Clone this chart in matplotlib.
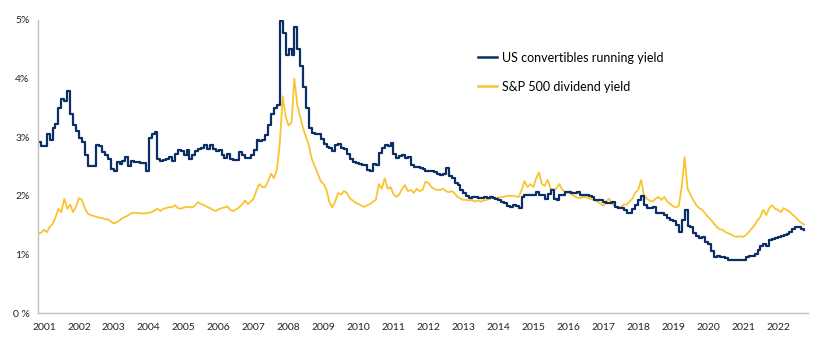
import numpy as np
import pandas as pd
import matplotlib
matplotlib.use("Agg")
import matplotlib.pyplot as plt

plt.rcParams['font.family'] = ['Lato', 'DejaVu Sans']

# monthly readings, Nov 2000 .. Oct 2022 (in % yield)
conv_2000 = [2.92, 2.85]
conv_2001 = [2.85, 3.05, 2.95, 3.15, 3.22, 3.50, 3.65, 3.62, 3.78, 3.40, 3.20, 3.10]
conv_2002 = [2.98, 2.92, 2.70, 2.50, 2.50, 2.50, 2.87, 2.85, 2.75, 2.70, 2.62, 2.45]
conv_2003 = [2.42, 2.58, 2.55, 2.60, 2.66, 2.50, 2.60, 2.58, 2.58, 2.56, 2.56, 2.42]
conv_2004 = [2.99, 3.05, 3.09, 2.62, 2.60, 2.61, 2.63, 2.66, 2.60, 2.72, 2.78, 2.76]
conv_2005 = [2.70, 2.78, 2.62, 2.70, 2.76, 2.80, 2.82, 2.87, 2.80, 2.87, 2.80, 2.76]
conv_2006 = [2.78, 2.70, 2.65, 2.72, 2.62, 2.61, 2.61, 2.75, 2.70, 2.64, 2.65, 2.70]
conv_2007 = [2.78, 2.95, 2.93, 2.95, 3.04, 3.20, 3.40, 3.50, 3.55, 4.98, 4.78, 4.40]
conv_2008 = [4.50, 4.40, 4.88, 4.50, 4.22, 3.85, 3.50, 3.15, 3.08, 3.05, 3.05, 2.97]
conv_2009 = [2.88, 2.83, 2.82, 2.76, 2.87, 2.88, 2.82, 2.80, 2.72, 2.62, 2.57, 2.56]
conv_2010 = [2.55, 2.53, 2.52, 2.44, 2.42, 2.54, 2.53, 2.73, 2.82, 2.87, 2.85, 2.90]
conv_2011 = [2.72, 2.65, 2.68, 2.70, 2.64, 2.66, 2.52, 2.49, 2.49, 2.47, 2.45, 2.42]
conv_2012 = [2.43, 2.42, 2.40, 2.38, 2.36, 2.38, 2.47, 2.33, 2.30, 2.22, 2.18, 2.10]
conv_2013 = [2.05, 2.00, 1.96, 1.98, 1.98, 1.96, 1.97, 1.98, 1.96, 1.98, 1.97, 1.95]
conv_2014 = [1.93, 1.90, 1.88, 1.82, 1.81, 1.85, 1.82, 1.80, 1.98, 2.01, 2.01, 2.01]
conv_2015 = [2.02, 2.07, 2.01, 2.01, 1.95, 2.03, 2.10, 1.95, 1.92, 2.01, 2.02, 2.07]
conv_2016 = [2.07, 2.05, 2.05, 2.07, 2.01, 2.01, 2.01, 2.00, 1.98, 1.93, 1.93, 1.93]
conv_2017 = [1.90, 1.87, 1.87, 1.90, 1.81, 1.79, 1.79, 1.75, 1.70, 1.70, 1.77, 1.85]
conv_2018 = [1.93, 2.00, 1.85, 1.80, 1.80, 1.81, 1.70, 1.70, 1.70, 1.67, 1.62, 1.59]
conv_2019 = [1.57, 1.50, 1.38, 1.59, 1.75, 1.48, 1.47, 1.36, 1.32, 1.28, 1.30, 1.22]
conv_2020 = [1.17, 1.05, 0.96, 0.97, 0.95, 0.96, 0.94, 0.91, 0.90, 0.90, 0.90, 0.90]
conv_2021 = [0.90, 0.95, 0.98, 0.98, 1.00, 1.08, 1.14, 1.18, 1.15, 1.24, 1.26, 1.28]
conv_2022 = [1.30, 1.32, 1.33, 1.35, 1.38, 1.44, 1.47, 1.46, 1.43, 1.42]

spx_2000 = [1.36, 1.37]
spx_2001 = [1.42, 1.38, 1.47, 1.52, 1.63, 1.78, 1.72, 1.95, 1.78, 1.85, 1.72, 1.81]
spx_2002 = [1.96, 1.93, 1.80, 1.70, 1.67, 1.66, 1.64, 1.63, 1.62, 1.60, 1.60, 1.56]
spx_2003 = [1.53, 1.55, 1.58, 1.62, 1.64, 1.67, 1.70, 1.71, 1.71, 1.70, 1.70, 1.70]
spx_2004 = [1.71, 1.72, 1.75, 1.78, 1.74, 1.78, 1.79, 1.81, 1.80, 1.84, 1.79, 1.78]
spx_2005 = [1.80, 1.81, 1.81, 1.80, 1.84, 1.89, 1.86, 1.84, 1.81, 1.79, 1.76, 1.74]
spx_2006 = [1.77, 1.79, 1.80, 1.82, 1.76, 1.74, 1.77, 1.80, 1.85, 1.92, 1.86, 1.90]
spx_2007 = [1.95, 2.10, 2.20, 2.15, 2.15, 2.25, 2.38, 2.30, 2.45, 2.90, 3.70, 3.35]
spx_2008 = [3.20, 3.25, 4.00, 3.55, 3.35, 3.15, 3.00, 2.85, 2.62, 2.50, 2.38, 2.25]
spx_2009 = [2.20, 2.10, 1.90, 1.80, 1.90, 2.05, 2.02, 2.08, 2.05, 1.96, 1.92, 1.88]
spx_2010 = [1.86, 1.83, 1.81, 1.84, 1.86, 1.90, 1.93, 2.20, 2.12, 2.30, 2.12, 2.15]
spx_2011 = [2.03, 1.98, 2.02, 2.12, 2.18, 2.08, 2.10, 2.05, 2.12, 2.08, 2.10, 2.24]
spx_2012 = [2.22, 2.15, 2.12, 2.10, 2.10, 2.12, 2.08, 2.06, 2.08, 2.04, 1.98, 1.95]
spx_2013 = [1.93, 1.93, 1.92, 1.93, 1.90, 1.92, 1.90, 1.92, 1.93, 1.95, 1.96, 1.96]
spx_2014 = [1.97, 1.98, 1.98, 2.00, 2.00, 2.00, 1.99, 1.98, 2.10, 2.25, 2.15, 2.20]
spx_2015 = [2.15, 2.30, 2.40, 2.20, 2.17, 2.27, 2.12, 2.10, 2.13, 2.20, 2.10, 2.07]
spx_2016 = [2.05, 2.03, 2.00, 1.97, 1.96, 1.98, 1.98, 1.96, 1.94, 1.93, 1.90, 1.87]
spx_2017 = [1.83, 1.90, 1.95, 1.88, 1.82, 1.80, 1.80, 1.85, 1.85, 1.90, 1.95, 2.05]
spx_2018 = [2.10, 2.27, 2.02, 1.95, 1.92, 1.90, 1.95, 1.98, 1.93, 1.98, 1.90, 1.86]
spx_2019 = [1.82, 1.80, 1.83, 2.15, 2.66, 2.12, 2.02, 1.92, 1.84, 1.79, 1.76, 1.70]
spx_2020 = [1.64, 1.59, 1.53, 1.47, 1.43, 1.42, 1.38, 1.36, 1.34, 1.31, 1.30, 1.31]
spx_2021 = [1.30, 1.33, 1.38, 1.44, 1.50, 1.58, 1.64, 1.76, 1.67, 1.79, 1.84, 1.78]
spx_2022 = [1.76, 1.72, 1.79, 1.76, 1.73, 1.68, 1.64, 1.58, 1.54, 1.51]

conv = (conv_2000 + conv_2001 + conv_2002 + conv_2003 + conv_2004 + conv_2005
        + conv_2006 + conv_2007 + conv_2008 + conv_2009 + conv_2010 + conv_2011
        + conv_2012 + conv_2013 + conv_2014 + conv_2015 + conv_2016 + conv_2017
        + conv_2018 + conv_2019 + conv_2020 + conv_2021 + conv_2022)
spx = (spx_2000 + spx_2001 + spx_2002 + spx_2003 + spx_2004 + spx_2005
       + spx_2006 + spx_2007 + spx_2008 + spx_2009 + spx_2010 + spx_2011
       + spx_2012 + spx_2013 + spx_2014 + spx_2015 + spx_2016 + spx_2017
       + spx_2018 + spx_2019 + spx_2020 + spx_2021 + spx_2022)

dates = pd.date_range('2000-11-01', periods=len(conv), freq='MS')
years = list(range(2001, 2023))
y_ticks = [0, 1, 2, 3, 4, 5]
y_labels = ['0 %', '1%', '2%', '3%', '4%', '5%']

navy = '#0b2e66'
gold = '#f9c332'

fig = plt.figure(figsize=(8.2, 3.4), dpi=100)
ax = fig.add_axes([0.0463, 0.0794, 0.9390, 0.8618])

ax.plot(dates, spx, color=gold, lw=1.3, label='S&P 500 dividend yield')
ax.plot(dates, conv, color=navy, lw=1.6, drawstyle='steps-post',
        label='US convertibles running yield')

ax.set_ylim(0, 5)
ax.set_xlim(pd.Timestamp('2000-10-30'), pd.Timestamp('2022-11-10'))
ax.set_yticks(y_ticks)
ax.set_yticklabels(y_labels)
ax.set_xticks([pd.Timestamp(f'{y}-01-01') for y in years])
ax.set_xticklabels([str(y) for y in years])
ax.tick_params(length=0, labelsize=7.5, colors='#222222')
ax.tick_params(axis='y', pad=6)
ax.tick_params(axis='x', pad=7)

for s in ['top', 'right']:
    ax.spines[s].set_visible(False)
for s in ['left', 'bottom']:
    ax.spines[s].set_color('#c0c0c0')
    ax.spines[s].set_linewidth(1.0)

h, l = ax.get_legend_handles_labels()
leg = fig.legend(h[::-1], l[::-1], loc='upper left', bbox_to_anchor=(0.583, 0.848),
                 frameon=False, fontsize=9, handlelength=1.5, handletextpad=0.4,
                 labelspacing=1.35, borderpad=0, borderaxespad=0)
for line in leg.get_lines():
    line.set_linewidth(1.8)
    line.set_drawstyle('default')

fig.savefig('out.png', dpi=100)
